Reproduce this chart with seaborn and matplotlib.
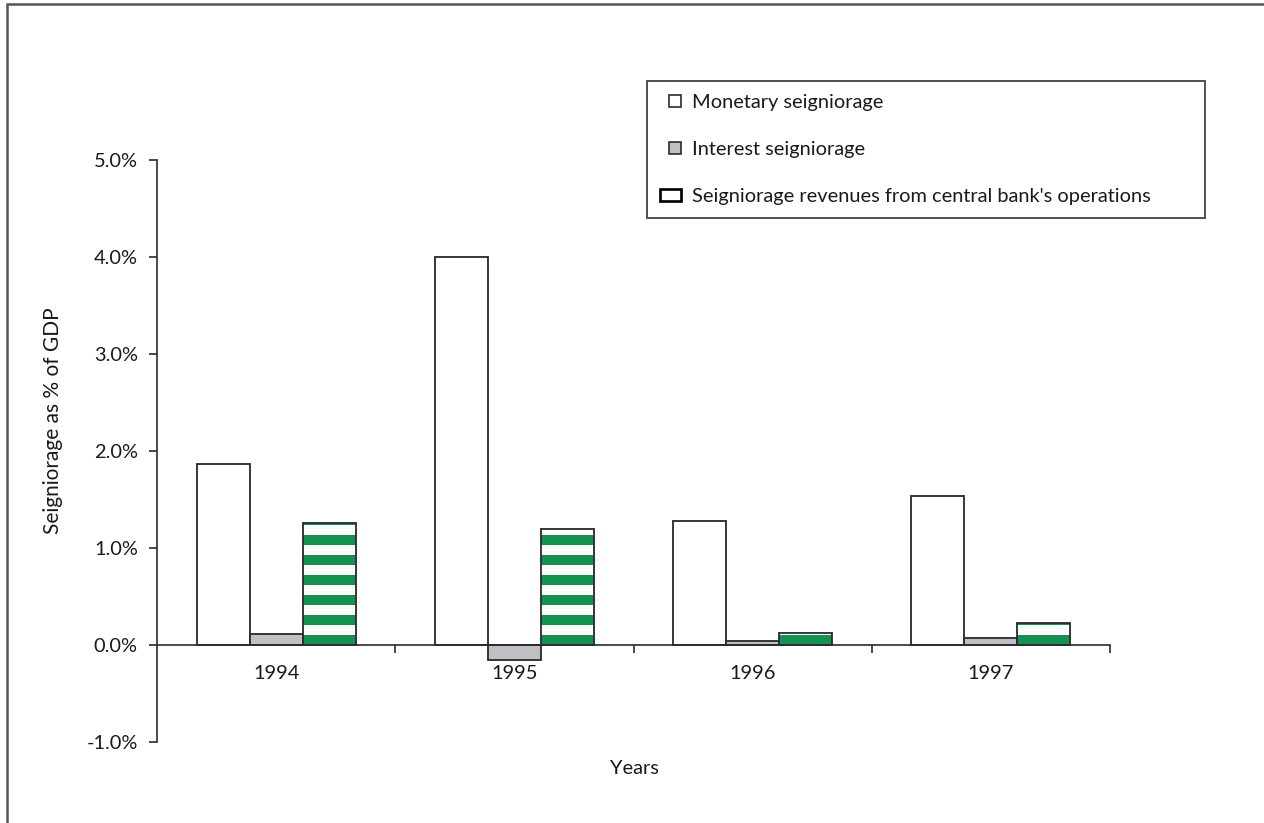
import pandas as pd
import matplotlib
matplotlib.use("Agg")
import matplotlib.pyplot as plt
from matplotlib.patches import Rectangle, Patch
from matplotlib.legend_handler import HandlerPatch
from matplotlib.ticker import FuncFormatter
import seaborn as sns

# Data (seigniorage as % of GDP)
years = ["1994", "1995", "1996", "1997"]
monetary = [1.87, 4.00, 1.28, 1.54]
interest = [0.11, -0.15, 0.04, 0.07]
operations = [1.26, 1.20, 0.12, 0.23]
series = ["Monetary seigniorage", "Interest seigniorage",
          "Seigniorage revenues from central bank's operations"]

df = pd.DataFrame({
    "Year": years * 3,
    "Value": monetary + interest + operations,
    "Series": [series[0]] * 4 + [series[1]] * 4 + [series[2]] * 4,
})

dark = "#2b2b2b"
gray = "#c0c0c4"
green = "#00a652"
txt = "#1a1a1a"

sns.set_style("white")
plt.rcParams["font.family"] = ["Lato", "DejaVu Sans"]
plt.rcParams["hatch.linewidth"] = 6.0

fig = plt.figure(figsize=(1264 / 120, 823 / 120), dpi=120)
ax = fig.add_axes([157 / 1264, 1 - 742 / 823, (1110 - 157) / 1264, (742 - 160) / 823])

sns.barplot(data=df, x="Year", y="Value", hue="Series",
            palette=["white", gray, green], width=0.667, gap=0,
            edgecolor=dark, linewidth=1.1, legend=False, ax=ax)

# striped green bars: white hatch over green (hatch takes the edge colour),
# so the outline is drawn separately
for bar in ax.containers[2]:
    bar.set_hatch("-")
    bar.set_edgecolor("white")
    bar.set_linewidth(0)
    ax.add_patch(Rectangle(bar.get_xy(), bar.get_width(), bar.get_height(),
                           fill=False, edgecolor=dark, linewidth=1.1, zorder=3))

ax.set_ylim(-1, 5)
ax.set_xlim(-0.5, 3.5)
ax.set_yticks([-1, 0, 1, 2, 3, 4, 5])
ax.yaxis.set_major_formatter(FuncFormatter(lambda v, p: f"{v:.1f}%"))
ax.set_xticks([0.5, 1.5, 2.5, 3.5], minor=True)

for s in ["top", "right"]:
    ax.spines[s].set_visible(False)
ax.spines["bottom"].set_position(("data", 0))
for s in ["left", "bottom"]:
    ax.spines[s].set_color(dark)
    ax.spines[s].set_linewidth(1.0)

ax.tick_params(axis="y", length=5, width=1.0, color=dark, pad=6.5,
               labelsize=12, labelcolor=txt, left=True)
ax.tick_params(axis="x", which="major", length=0, pad=12,
               labelsize=12, labelcolor=txt)
ax.tick_params(axis="x", which="minor", length=5, width=1.0, color=dark,
               bottom=True, direction="out")

ax.set_xlabel("")
ax.set_ylabel("")
fig.text(53 / 1264, 1 - 421 / 823, "Seigniorage as % of GDP", fontsize=12.5,
         color=txt, rotation=90, ha="center", va="center")
fig.text(634 / 1264, 1 - 768 / 823, "Years", fontsize=12, color=txt,
         ha="center", va="center")

# legend; the third key is white over green with a dark outline
white_top = Patch(facecolor="white", linewidth=0)
handles = [
    Patch(facecolor="white", edgecolor=dark, linewidth=1.0),
    Patch(facecolor=gray, edgecolor=dark, linewidth=1.0),
    (Patch(facecolor=green, linewidth=0), white_top,
     Patch(facecolor="none", edgecolor="black", linewidth=1.6)),
]
leg = fig.legend(handles, series, loc="upper left",
                 bbox_to_anchor=(647 / 1264, 1 - 81 / 823 - 0.01, (1205 - 647) / 1264, 0.01),
                 mode="expand", frameon=True, fancybox=False, fontsize=12,
                 handlelength=1.05, handleheight=0.6, handletextpad=0.55,
                 labelspacing=1.5, borderpad=0.65, borderaxespad=0,
                 handler_map={Patch: HandlerPatch(xpad=0.45),
                              white_top: HandlerPatch(xpad=0.45, ypad=0.32)})
leg.get_frame().set_edgecolor(dark)
leg.get_frame().set_linewidth(1.2)
for t in leg.get_texts():
    t.set_color(txt)

# outer frame (left and top edges only visible)
fig.add_artist(Rectangle((7 / 1264, -0.1), 1.2, 1 - 4 / 823 + 0.1,
                         transform=fig.transFigure, fill=False,
                         edgecolor="#555555", linewidth=1.5))

fig.savefig("out.png", dpi=120)
